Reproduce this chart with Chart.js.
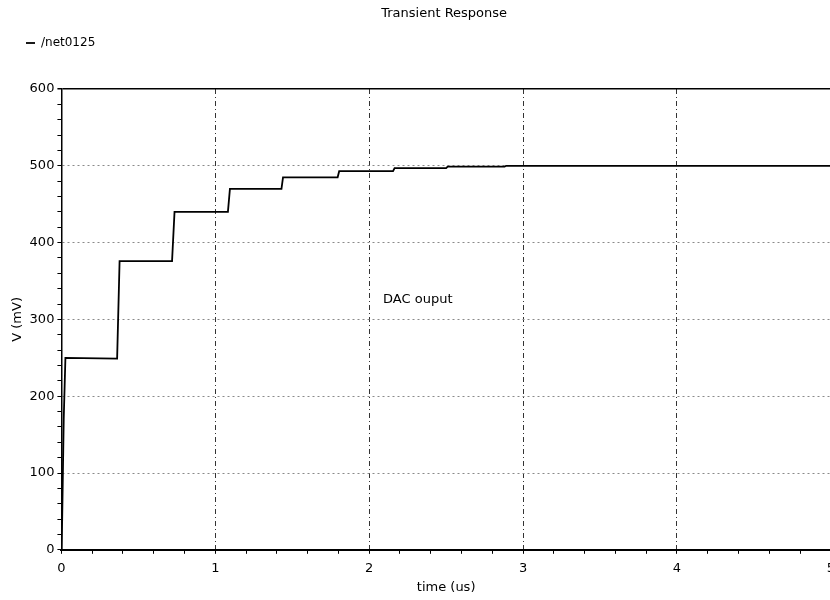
<!DOCTYPE html>
<html>
<head>
<meta charset="utf-8">
<title>Transient Response</title>
<script src="https://cdn.jsdelivr.net/npm/chart.js@4.4.1/dist/chart.umd.min.js"></script>
<style>
  html, body { margin: 0; padding: 0; background: #fff; overflow: hidden; }
  canvas { display: block; }
</style>
</head>
<body>
<canvas id="chart" width="842" height="600"></canvas>
<script>
// DAC output step response (time in us, voltage in mV)
const times = [0, 0.005, 0.015, 0.026, 0.362, 0.378, 0.719, 0.735, 1.082, 1.095, 1.43, 1.44, 1.795, 1.805, 2.155, 2.165, 2.5, 2.51, 2.88, 2.89, 5];
const volts = [0, 40, 170, 250, 249, 376, 376, 440, 440, 470, 470, 485, 485, 493, 493, 497, 497, 499, 499, 500, 500];

const seriesName = '/net0125';
const xTicksMajor = [0, 1, 2, 3, 4, 5];
const yTicksMajor = [0, 100, 200, 300, 400, 500, 600];

const chartTitle = 'Transient Response';
// text note placed on the plot
const noteText = 'DAC ouput';
const noteAt = [2.09, 326];

const FONT = 'DejaVu Sans';
const clear = 'rgba(0,0,0,0)';

function isMajor(v, list) {
  return list.some(m => Math.abs(m - v) < 1e-6);
}

// title sits over the plot area (not the whole canvas), plus the note
const textPlugin = {
  id: 'texts',
  afterDatasetsDraw(chart) {
    const { ctx, scales, chartArea } = chart;
    ctx.save();
    ctx.fillStyle = '#000';
    ctx.font = '13px "' + FONT + '"';
    ctx.textAlign = 'center';
    ctx.textBaseline = 'middle';
    ctx.fillText(chartTitle, (chartArea.left + chartArea.right) / 2 - 2, 14);
    ctx.textAlign = 'left';
    ctx.fillText(noteText, scales.x.getPixelForValue(noteAt[0]), scales.y.getPixelForValue(noteAt[1]));
    ctx.restore();
  }
};

new Chart(document.getElementById('chart').getContext('2d'), {
  type: 'line',
  data: {
    datasets: [{
      label: seriesName,
      data: times.map((t, i) => ({ x: t, y: volts[i] })),
      borderColor: '#000',
      backgroundColor: '#000',
      borderWidth: 1.8,
      pointRadius: 0,
      pointStyle: 'line',
      fill: false,
      tension: 0
    }]
  },
  options: {
    responsive: false,
    animation: false,
    layout: { padding: { top: 11 } },
    plugins: {
      title: { display: false },
      legend: {
        display: true,
        position: 'top',
        align: 'start',
        labels: {
          color: '#000',
          font: { family: FONT, size: 12 },
          usePointStyle: true,
          pointStyleWidth: 9,
          padding: 26
        }
      },
      tooltip: { enabled: false }
    },
    scales: {
      x: {
        type: 'linear',
        position: 'bottom',
        min: 0,
        max: 5,
        ticks: {
          stepSize: 0.2,
          autoSkip: false,
          maxRotation: 0,
          padding: 7,
          color: '#000',
          font: { family: FONT, size: 13 },
          callback: v => isMajor(v, xTicksMajor) ? Math.round(v) : ''
        },
        grid: {
          color: c => (c.tick && isMajor(c.tick.value, [1, 2, 3, 4])) ? '#333' : clear,
          lineWidth: 1,
          tickLength: 4,
          tickColor: '#000'
        },
        border: { display: true, color: '#000', width: 2, dash: [5, 3, 1, 3] },
        title: {
          display: true,
          text: 'time (us)',
          color: '#000',
          font: { family: FONT, size: 13 },
          padding: { top: -4, bottom: 5 }
        }
      },
      xTop: {
        type: 'linear',
        position: 'top',
        min: 0,
        max: 5,
        ticks: { display: false },
        grid: { display: false, drawTicks: false },
        border: { display: false },
        title: {
          display: true,
          text: '',
          font: { family: FONT, size: 12 },
          padding: { top: 0, bottom: 15.6 }
        }
      },
      y: {
        type: 'linear',
        position: 'left',
        min: 0,
        max: 600,
        ticks: {
          stepSize: 20,
          autoSkip: false,
          padding: 3,
          color: '#000',
          font: { family: FONT, size: 13 },
          callback: v => isMajor(v, yTicksMajor) ? Math.round(v) : ''
        },
        grid: {
          color: c => {
            if (!c.tick) return clear;
            const v = c.tick.value;
            if (Math.abs(v - 600) < 1e-6) return '#000';
            if (isMajor(v, [100, 200, 300, 400, 500])) return '#8a8a8a';
            return clear;
          },
          lineWidth: c => (c.tick && Math.abs(c.tick.value - 600) < 1e-6) ? 1.5 : 1,
          tickLength: 4,
          tickColor: '#000'
        },
        border: {
          display: true,
          color: '#000',
          width: 1.5,
          dash: c => (c.tick && Math.abs(c.tick.value - 600) < 1e-6) ? [] : [2, 3]
        },
        title: {
          display: true,
          text: 'V (mV)',
          color: '#000',
          font: { family: FONT, size: 13 },
          padding: { top: 10, bottom: 1 }
        }
      }
    }
  },
  plugins: [textPlugin]
});
</script>
</body>
</html>
